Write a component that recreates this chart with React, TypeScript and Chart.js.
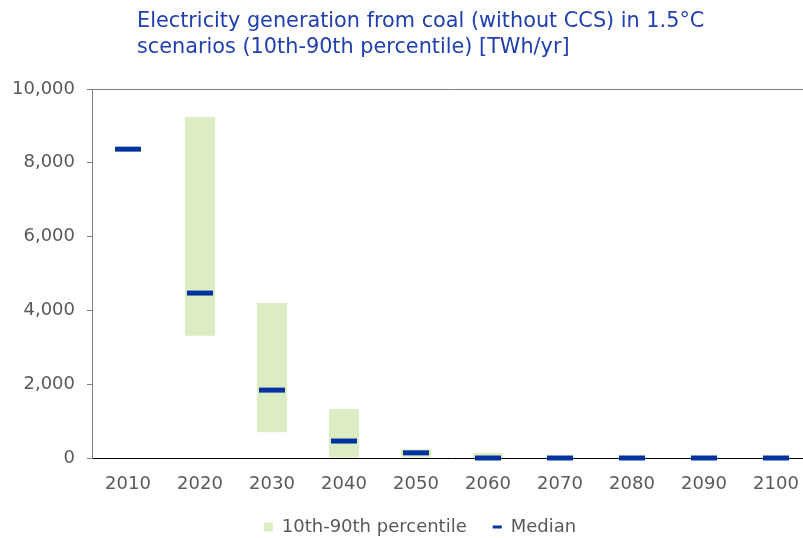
import React, { useEffect, useRef } from "react";
import { Chart, registerables } from "chart.js";

Chart.register(...registerables);

const years = ["2010", "2020", "2030", "2040", "2050", "2060", "2070", "2080", "2090", "2100"];
const p10 = [null, 3310, 700, 0, 0, 0, null, null, null, null];
const p90 = [null, 9240, 4200, 1330, 230, 140, null, null, null, null];
const median = [8370, 4470, 1840, 460, 140, 0, 0, 0, 0, 0];
const titleLines = [
  "Electricity generation from coal (without CCS) in 1.5°C",
  "scenarios (10th-90th percentile) [TWh/yr]",
];

const GREEN = "#ddedc3";
const BLUE = "#0033a0";
const GREY = "#595959";
const FONT = "'DejaVu Sans', Verdana, sans-serif";

export default function App() {
  const ref = useRef<HTMLCanvasElement>(null);

  useEffect(() => {
    if (!ref.current) return;
    const titlePlugin = {
      id: "customTitle",
      afterLayout(chart: any) {
        if (chart.legend) {
          chart.legend.left += 14;
          chart.legend.right += 14;
        }
      },
      afterDraw(chart: any) {
        const ctx = chart.ctx;
        ctx.save();
        ctx.font = `20.8px ${FONT}`;
        ctx.fillStyle = "#2040b0";
        ctx.textBaseline = "middle";
        ctx.textAlign = "left";
        titleLines.forEach((t, i) => ctx.fillText(t, 137, 22 + i * 26));
        ctx.restore();
      },
    };
    const range = p10.map((lo, i) => (lo === null || p90[i] === null ? null : [lo, p90[i]]));
    const chart = new Chart(ref.current, {
      type: "bar",
      data: {
        labels: years,
        datasets: [
          {
            type: "bar",
            label: "10th-90th percentile",
            data: range as any,
            backgroundColor: GREEN,
            borderWidth: 0,
            barPercentage: 0.42,
            categoryPercentage: 1,
            order: 2,
          },
          {
            type: "line",
            label: "Median",
            data: median,
            showLine: false,
            pointStyle: "line",
            pointRadius: 13,
            pointHoverRadius: 13,
            pointBorderWidth: 5,
            pointHoverBorderWidth: 5,
            borderColor: BLUE,
            backgroundColor: BLUE,
            clip: false as any,
            order: 1,
          },
        ],
      },
      options: {
        responsive: false,
        animation: false,
        layout: { padding: { top: 89, right: 18, left: 0, bottom: 2 } },
        plugins: {
          tooltip: { enabled: false },
          title: { display: false },
          legend: {
            position: "bottom",
            labels: {
              usePointStyle: true,
              boxHeight: 9,
              pointStyleWidth: 9,
              padding: 26,
              color: GREY,
              font: { family: FONT, size: 18 },
              generateLabels: () => [
                { text: "10th-90th percentile", fillStyle: GREEN, strokeStyle: GREEN, lineWidth: 0, pointStyle: "rect", datasetIndex: 0, fontColor: GREY } as any,
                { text: "Median", fillStyle: BLUE, strokeStyle: BLUE, lineWidth: 3, pointStyle: "line", datasetIndex: 1, fontColor: GREY } as any,
              ],
            },
          },
        },
        scales: {
          x: {
            afterFit: (s: any) => { s.height = 34; },
            grid: { color: "transparent", drawTicks: false },
            border: { color: "#000000", width: 1 },
            ticks: { color: GREY, font: { family: FONT, size: 18 }, padding: 16 },
          },
          y: {
            min: 0,
            max: 10000,
            afterFit: (s: any) => { s.width = 92; },
            grid: {
              color: (c: any) => (c.tick && c.tick.value === 10000 ? "#7f7f7f" : "transparent"),
              tickColor: "#7f7f7f",
              tickLength: 5,
            },
            border: { color: "#7f7f7f", width: 1 },
            ticks: {
              stepSize: 2000,
              color: GREY,
              padding: 12,
              font: { family: FONT, size: 18 },
              callback: (v: any) => Number(v).toLocaleString("en-US"),
            },
          },
        },
      },
      plugins: [titlePlugin],
    });
    return () => chart.destroy();
  }, []);

  return (
    <div style={{ position: "absolute", left: 0, top: 0, width: 803, height: 538, overflow: "hidden", background: "#fff" }}>
      <canvas ref={ref} width={830} height={548} />
    </div>
  );
}
